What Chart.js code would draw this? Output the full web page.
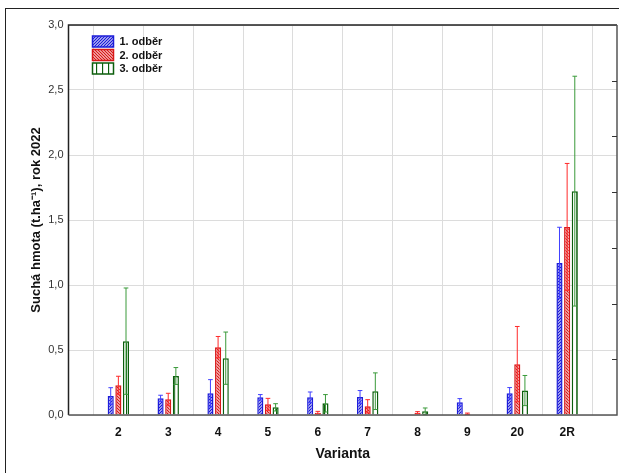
<!DOCTYPE html>
<html>
<head>
<meta charset="utf-8">
<script src="https://cdn.jsdelivr.net/npm/chart.js@4.4.1/dist/chart.umd.min.js"></script>
<style>
    body { margin: 0; background: #fff; overflow: hidden; }
    #wrap { position: relative; width: 619px; height: 473px; overflow: hidden; }
    #frame { position: absolute; left: 5px; top: 8px; width: 640px; height: 500px; border: 1.5px solid #222; pointer-events: none; }
</style>
</head>
<body>
<div id="wrap">
    <canvas id="chart" width="619" height="473"></canvas>
    <div id="frame"></div>
</div>
<script>
// Data
const categories = ['2', '3', '4', '5', '6', '7', '8', '9', '20', '2R'];
const seriesNames = ['1. odběr', '2. odběr', '3. odběr'];
const odber1 = [0.146, 0.128, 0.167, 0.136, 0.136, 0.139, null, 0.098, 0.167, 1.17];
const odber1Err = [0.064, 0.024, 0.105, 0.021, 0.041, 0.049, 0, 0.028, 0.044, 0.274];
const odber2 = [0.229, 0.121, 0.522, 0.082, 0.018, 0.067, 0.018, 0.01, 0.391, 1.447];
const odber2Err = [0.069, 0.046, 0.082, 0.046, 0.01, 0.051, 0.008, 0.005, 0.29, 0.488];
const odber3 = [0.568, 0.30, 0.437, 0.059, 0.09, 0.183, 0.028, null, 0.188, 1.722];
const odber3Err = [0.409, 0.065, 0.201, 0.028, 0.067, 0.141, 0.026, 0, 0.116, 0.884];
const yMin = 0, yMax = 3, yStep = 0.5;
const rightTickCount = 7; // the inner ticks on the right edge

// Hatch patterns like the original
function makePattern(color, kind) {
    const size = kind === 'vert' ? 6 : 3;
    const c = document.createElement('canvas');
    c.width = size; c.height = size;
    const x = c.getContext('2d');
    x.fillStyle = '#fff';
    x.fillRect(0, 0, size, size);
    x.strokeStyle = color;
    x.lineWidth = 1.3;
    x.beginPath();
    if (kind === 'fwd') {
        x.moveTo(-1, size + 1); x.lineTo(size + 1, -1);
        x.moveTo(-1, 1); x.lineTo(1, -1);
        x.moveTo(size - 1, size + 1); x.lineTo(size + 1, size - 1);
    } else if (kind === 'back') {
        x.moveTo(-1, -1); x.lineTo(size + 1, size + 1);
        x.moveTo(size - 1, -1); x.lineTo(size + 1, 1);
        x.moveTo(-1, size - 1); x.lineTo(1, size + 1);
    } else {
        x.moveTo(0.5, 0); x.lineTo(0.5, size);
    }
    x.stroke();
    return x.createPattern(c, 'repeat');
}

const borderColors = ['#1c1cd8', '#d81818', '#0c5e0c'];
const errColors = ['#4040ff', '#ff2a2a', '#3a9a3a'];
const patterns = [
    makePattern('#1c1cd8', 'fwd'),
    makePattern('#d81818', 'back'),
    makePattern('#0c5e0c', 'vert')
];
const means = [odber1, odber2, odber3];
const errs = [odber1Err, odber2Err, odber3Err];

// pad with empty slots so categories sit between the plot edges
const labels = [''].concat(categories, ['']);
const pad = arr => [null].concat(arr, [null]);

const datasets = means.map((m, i) => ({
    label: seriesNames[i],
    data: pad(m),
    err: pad(errs[i]),
    backgroundColor: patterns[i],
    borderColor: borderColors[i],
    borderWidth: 1.5,
    errColor: errColors[i],
    categoryPercentage: 0.46,
    barPercentage: 0.8
}));

// error whiskers drawn through the scales
const errorBars = {
    id: 'errorBars',
    afterDatasetsDraw(chart) {
        const ctx = chart.ctx;
        const y = chart.scales.y;
        chart.data.datasets.forEach((ds, i) => {
            const meta = chart.getDatasetMeta(i);
            meta.data.forEach((bar, j) => {
                const v = ds.data[j];
                const e = ds.err[j];
                if (v === null || !e) return;
                const cx = bar.x;
                const hw = bar.width * 0.38;
                const yTop = y.getPixelForValue(v + e);
                const yBot = y.getPixelForValue(Math.max(v - e, 0));
                ctx.save();
                ctx.strokeStyle = ds.errColor;
                ctx.lineWidth = 1;
                ctx.beginPath();
                ctx.moveTo(cx, yTop); ctx.lineTo(cx, yBot);
                ctx.moveTo(cx - hw, yTop); ctx.lineTo(cx + hw, yTop);
                if (v - e > 0) {
                    ctx.moveTo(cx - hw, yBot); ctx.lineTo(cx + hw, yBot);
                }
                ctx.stroke();
                ctx.restore();
            });
        });
    }
};

// frame of the plot, inner right ticks and the legend
const plotDecor = {
    id: 'plotDecor',
    afterDraw(chart) {
        const ctx = chart.ctx;
        const a = chart.chartArea;
        ctx.save();
        ctx.lineWidth = 1.5;
        ctx.strokeStyle = '#222';
        ctx.beginPath();
        ctx.moveTo(a.left, a.bottom); ctx.lineTo(a.left, a.top); ctx.lineTo(a.right, a.top);
        ctx.stroke();
        ctx.strokeStyle = '#555';
        ctx.beginPath();
        ctx.moveTo(a.left, a.bottom); ctx.lineTo(a.right, a.bottom); ctx.lineTo(a.right, a.top);
        ctx.stroke();

        ctx.lineWidth = 1;
        ctx.strokeStyle = '#333';
        ctx.beginPath();
        for (let k = 1; k < rightTickCount; k++) {
            const py = Math.round(a.bottom - (a.bottom - a.top) * k / rightTickCount) + 0.5;
            ctx.moveTo(a.right, py); ctx.lineTo(a.right - 5, py);
        }
        ctx.stroke();

        // legend
        const lx = a.left + 24, ly = a.top + 11;
        ctx.font = 'bold 11px Arial, "Liberation Sans", sans-serif';
        ctx.textBaseline = 'middle';
        chart.data.datasets.forEach((ds, i) => {
            const top = ly + i * 13.5;
            ctx.fillStyle = ds.backgroundColor;
            ctx.fillRect(lx, top, 21, 11);
            ctx.strokeStyle = ds.borderColor;
            ctx.lineWidth = 1.5;
            ctx.strokeRect(lx, top, 21, 11);
            ctx.fillStyle = '#111';
            ctx.fillText(ds.label, lx + 27, top + 6);
        });
        ctx.restore();
    }
};

const ctx = document.getElementById('chart').getContext('2d');
const chart = new Chart(ctx, {
    type: 'bar',
    data: { labels: labels, datasets: datasets },
    plugins: [errorBars, plotDecor],
    options: {
        responsive: false,
        animation: false,
        layout: { padding: { top: 25, right: 2, left: 0, bottom: 0 } },
        plugins: {
            legend: { display: false },
            tooltip: { enabled: false }
        },
        scales: {
            x: {
                offset: false,
                grid: { color: '#dcdcdc', lineWidth: 1, drawTicks: false },
                border: { display: false },
                ticks: {
                    color: '#111',
                    padding: 10,
                    autoSkip: false,
                    maxRotation: 0,
                    font: { family: 'Arial, "Liberation Sans", sans-serif', size: 12, weight: 'bold' }
                },
                title: {
                    display: true,
                    text: 'Varianta',
                    color: '#111',
                    padding: { top: 0, bottom: 10 },
                    font: { family: 'Arial, "Liberation Sans", sans-serif', size: 14, weight: 'bold' }
                },
                afterFit(scale) {
                    scale.height = 58;
                    scale.paddingRight = 0;
                    scale.paddingLeft = 0;
                }
            },
            y: {
                min: yMin,
                max: yMax,
                grid: { color: '#dcdcdc', lineWidth: 1, drawTicks: false },
                border: { display: false },
                ticks: {
                    stepSize: yStep,
                    padding: 5,
                    color: '#333',
                    font: { family: 'Arial, "Liberation Sans", sans-serif', size: 11 },
                    callback: v => v.toFixed(1).replace('.', ',')
                },
                title: {
                    display: true,
                    text: 'Suchá hmota (t.ha⁻¹), rok 2022',
                    color: '#111',
                    padding: { top: 29, bottom: 0 },
                    font: { family: 'Arial, "Liberation Sans", sans-serif', size: 13, weight: 'bold' }
                },
                afterFit(scale) { scale.width = 68.5; }
            }
        }
    }
});
</script>
</body>
</html>
